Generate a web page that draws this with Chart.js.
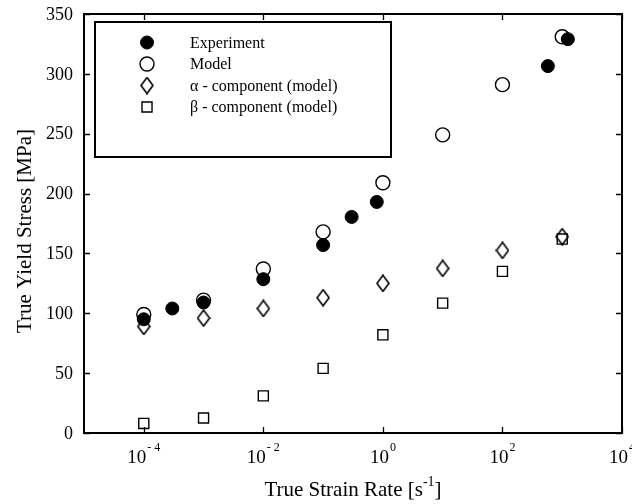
<!DOCTYPE html>
<html>
<head>
<meta charset="utf-8">
<script src="https://cdn.jsdelivr.net/npm/chart.js@4"></script>
<style>
  html, body { margin: 0; padding: 0; background: #fff; }
  canvas { display: block; }
</style>
</head>
<body>
<canvas id="chart" width="632" height="504"></canvas>
<script>
// data
const expRate = [1e-4, 3e-4, 1e-3, 1e-2, 0.1, 0.3, 0.79, 575, 1240];
const expStress = [95, 104, 109, 128.5, 157, 180.5, 193, 306.5, 329];

const modelRate = [1e-4, 1e-3, 1e-2, 0.1, 1, 10, 100, 1000];
const modelStress = [99, 111, 137, 168, 209, 249, 291, 331];

const alphaRate = [1e-4, 1e-3, 1e-2, 0.1, 1, 10, 100, 1000];
const alphaStress = [89, 96, 104, 113, 125, 137.5, 152.5, 164];

const betaRate = [1e-4, 1e-3, 1e-2, 0.1, 1, 10, 100, 1000];
const betaStress = [8, 12.5, 31, 54, 82, 108.5, 135, 162];

const yTicks = [0, 50, 100, 150, 200, 250, 300, 350];
const xTickExp = [-4, -2, 0, 2, 4];

const labels = [
    'Experiment',
    'Model',
    'α - component (model)',
    'β - component (model)',
];

const SERIF = '"Liberation Serif", "Times New Roman", serif';

const pts = (xs, ys) => xs.map((x, i) => ({ x, y: ys[i] }));

// tall diamond marker (rectRot is square, the figure's is taller than wide)
function diamond() {
    const c = document.createElement('canvas');
    c.width = 14;
    c.height = 18;
    const g = c.getContext('2d');
    g.strokeStyle = '#000';
    g.lineWidth = 1.6;
    g.beginPath();
    g.moveTo(7, 1);
    g.lineTo(13, 9);
    g.lineTo(7, 17);
    g.lineTo(1, 9);
    g.closePath();
    g.stroke();
    return c;
}
const diamondImg = diamond();

// ── Frame, inward ticks, labels, titles ───────────────────────────────────
const framePlugin = {
    id: 'frame',
    afterDatasetsDraw(chart) {
        const { ctx, chartArea: a, scales } = chart;
        const x = scales.x;
        const y = scales.y;
        ctx.save();
        ctx.strokeStyle = '#000';
        ctx.fillStyle = '#000';
        ctx.lineWidth = 2;
        ctx.strokeRect(a.left, a.top, a.right - a.left, a.bottom - a.top);

        ctx.lineWidth = 1.3;
        ctx.beginPath();
        for (const v of yTicks) {
            const py = Math.round(y.getPixelForValue(v)) + 0.5;
            ctx.moveTo(a.left, py);
            ctx.lineTo(a.left + 6, py);
            ctx.moveTo(a.right, py);
            ctx.lineTo(a.right - 6, py);
        }
        for (const e of xTickExp) {
            const px = Math.round(x.getPixelForValue(Math.pow(10, e))) + 0.5;
            ctx.moveTo(px, a.bottom);
            ctx.lineTo(px, a.bottom - 6);
            ctx.moveTo(px, a.top);
            ctx.lineTo(px, a.top + 6);
        }
        ctx.stroke();

        // y tick labels
        ctx.font = '18px ' + SERIF;
        ctx.textAlign = 'right';
        ctx.textBaseline = 'middle';
        for (const v of yTicks) {
            ctx.fillText(String(v), a.left - 11, y.getPixelForValue(v) + 1);
        }

        // x tick labels 10^n
        ctx.textAlign = 'left';
        ctx.textBaseline = 'alphabetic';
        for (const e of xTickExp) {
            const px = x.getPixelForValue(Math.pow(10, e));
            const sup = e < 0 ? '- ' + -e : String(e);
            ctx.font = '19px ' + SERIF;
            const w1 = ctx.measureText('10').width;
            ctx.font = '12px ' + SERIF;
            const w2 = ctx.measureText(sup).width;
            const x0 = px - (w1 + w2 + 1) / 2;
            ctx.font = '19px ' + SERIF;
            ctx.fillText('10', x0, 463);
            ctx.font = '12px ' + SERIF;
            ctx.fillText(sup, x0 + w1 + 1, 451);
        }

        // x title with superscript
        const t1 = 'True Strain Rate [s';
        const t2 = '-1';
        const t3 = ']';
        ctx.font = '21px ' + SERIF;
        const w1 = ctx.measureText(t1).width;
        const w3 = ctx.measureText(t3).width;
        ctx.font = '14px ' + SERIF;
        const w2 = ctx.measureText(t2).width;
        let tx = (a.left + a.right) / 2 - (w1 + w2 + w3) / 2;
        ctx.font = '21px ' + SERIF;
        ctx.fillText(t1, tx, 496);
        ctx.font = '14px ' + SERIF;
        ctx.fillText(t2, tx + w1, 486);
        ctx.font = '21px ' + SERIF;
        ctx.fillText(t3, tx + w1 + w2, 496);

        // y title
        ctx.translate(31, 231);
        ctx.rotate(-Math.PI / 2);
        ctx.textAlign = 'center';
        ctx.fillText('True Yield Stress [MPa]', 0, 0);
        ctx.restore();
    },
    afterDraw(chart) {
        // boxed legend, upper left
        const { ctx } = chart;
        ctx.save();
        ctx.fillStyle = '#fff';
        ctx.fillRect(95, 22, 296, 135);
        ctx.strokeStyle = '#000';
        ctx.lineWidth = 2;
        ctx.strokeRect(95, 22, 296, 135);
        const rowY = [42.5, 64, 85.5, 107];
        chart.data.datasets.forEach((ds, i) => {
            ctx.save();
            ctx.strokeStyle = ds.borderColor;
            ctx.fillStyle = ds.backgroundColor;
            ctx.lineWidth = ds.borderWidth;
            Chart.helpers.drawPoint(ctx, {
                pointStyle: ds.pointStyle,
                radius: ds.pointRadius,
                rotation: 0,
                borderWidth: ds.borderWidth,
            }, 147, rowY[i]);
            ctx.restore();
            ctx.fillStyle = '#000';
            ctx.font = '16px ' + SERIF;
            ctx.textAlign = 'left';
            ctx.textBaseline = 'middle';
            ctx.fillText(labels[i], 190, rowY[i] + 1);
        });
        ctx.restore();
    },
};

new Chart(document.getElementById('chart'), {
    type: 'scatter',
    data: {
        datasets: [
            {
                label: labels[0],
                data: pts(expRate, expStress),
                pointStyle: 'circle',
                pointRadius: 6.5,
                backgroundColor: '#000',
                borderColor: '#000',
                borderWidth: 1,
            },
            {
                label: labels[1],
                data: pts(modelRate, modelStress),
                pointStyle: 'circle',
                pointRadius: 7,
                backgroundColor: 'rgba(0,0,0,0)',
                borderColor: '#000',
                borderWidth: 1.4,
            },
            {
                label: labels[2],
                data: pts(alphaRate, alphaStress),
                pointStyle: diamondImg,
                pointRadius: 7,
                backgroundColor: 'rgba(0,0,0,0)',
                borderColor: '#000',
                borderWidth: 1.4,
            },
            {
                label: labels[3],
                data: pts(betaRate, betaStress),
                pointStyle: 'rect',
                pointRadius: 7.1,
                backgroundColor: 'rgba(0,0,0,0)',
                borderColor: '#000',
                borderWidth: 1.4,
            },
        ],
    },
    options: {
        responsive: false,
        animation: false,
        layout: { padding: { top: 14, right: 10, left: 0, bottom: 0 } },
        plugins: {
            legend: { display: false },
            tooltip: { enabled: false },
        },
        scales: {
            x: {
                type: 'logarithmic',
                min: 1e-5,
                max: 1e4,
                grid: { display: false },
                border: { display: false },
                ticks: { display: false },
                afterFit(s) { s.height = 71; },
            },
            y: {
                min: 0,
                max: 350,
                grid: { display: false },
                border: { display: false },
                ticks: { display: false },
                afterFit(s) { s.width = 84; },
            },
        },
    },
    plugins: [framePlugin],
});
</script>
</body>
</html>
